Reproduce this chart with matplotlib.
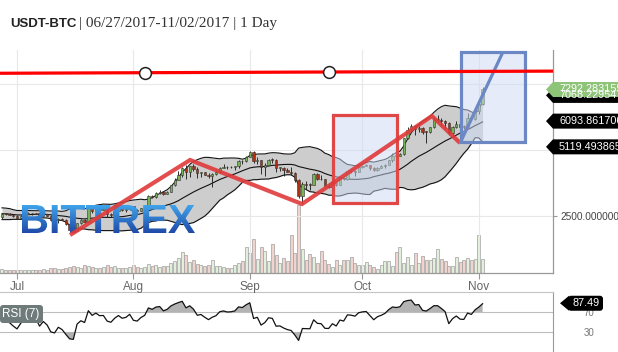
import numpy as np
import pandas as pd
import matplotlib
matplotlib.use("Agg")
import matplotlib.pyplot as plt
import matplotlib.dates as mdates
from matplotlib.patches import Rectangle, Polygon, PathPatch, FancyBboxPatch
from matplotlib.textpath import TextPath
from matplotlib.font_manager import FontProperties
from matplotlib.transforms import Affine2D

# ---------------- data ----------------
start_date = "2017-06-27"
end_date = "2017-11-02"
# closes before the visible window (Jun 8 - Jun 26), used only for the indicators
pre_close = [2690, 2720, 2800, 2750, 2500, 2600, 2430, 2380, 2450, 2580,
             2520, 2600, 2700, 2620, 2650, 2640, 2560, 2530, 2430]

open_ = [2450, 2580, 2570, 2550,
         2490, 2430, 2510, 2580, 2600, 2610, 2600, 2500, 2560, 2510, 2360, 2330, 2400, 2350, 2210, 1970,
         1930, 2230, 2330, 2280, 2830, 2680, 2820, 2740, 2750, 2580, 2540, 2680, 2790, 2720, 2750,
         2860, 2720, 2700, 2800, 2870, 3250, 3220, 3380, 3420, 3340, 3420, 3660, 3860, 4070, 4320, 4160,
         4380, 4290, 4110, 4150, 4070, 4000, 4090, 4150, 4330, 4370, 4350, 4360, 4390, 4580, 4570,
         4740, 4940, 4580, 4630, 4350, 4440, 4640, 4620, 4320, 4330, 4240, 4170, 4130, 3880, 3240,
         3700, 3690, 3680, 4100, 3910, 3890, 3620, 3610, 3790, 3680, 3930, 3890, 4210, 4200, 4170,
         4350, 4400, 4420, 4330, 4230, 4330, 4380, 4450, 4620, 4790, 4780, 4830, 5440, 5750, 5920,
         5790, 5850, 5700, 5680, 5860, 6140, 6150, 6090, 6020, 5640, 5860, 6000, 5890, 5880, 6200, 6160,
         6470, 6750]
high = [2600, 2620, 2600, 2570,
        2520, 2530, 2610, 2650, 2620, 2630, 2610, 2570, 2580, 2530, 2420, 2420, 2420, 2370, 2220, 2050,
        2240, 2380, 2400, 2900, 2840, 2860, 2830, 2780, 2770, 2620, 2700, 2820, 2810, 2770, 2880,
        2890, 2760, 2820, 2890, 3300, 3280, 3420, 3470, 3440, 3450, 3690, 3950, 4200, 4350, 4450, 4400,
        4480, 4360, 4180, 4180, 4110, 4120, 4250, 4370, 4460, 4380, 4400, 4400, 4630, 4640, 4760,
        4950, 4960, 4720, 4640, 4500, 4670, 4680, 4660, 4370, 4340, 4320, 4350, 4150, 3900, 3790,
        3840, 3750, 4120, 4120, 4050, 3900, 3760, 3800, 3800, 3950, 3980, 4220, 4270, 4230, 4360,
        4410, 4480, 4430, 4350, 4360, 4420, 4470, 4630, 4870, 4930, 4890, 5450, 5870, 6000, 5960,
        5900, 5870, 5730, 5880, 6200, 6320, 6200, 6150, 6050, 5900, 6080, 6090, 5950, 6400, 6280,
        6500, 6800, 7400]
low = [2400, 2520, 2530, 2480,
       2400, 2400, 2500, 2570, 2550, 2580, 2480, 2480, 2500, 2320, 2280, 2250, 2330, 2150, 1960, 1850,
       1920, 2200, 2250, 2270, 2620, 2660, 2700, 2710, 2480, 2460, 2530, 2670, 2700, 2650, 2730,
       2680, 2660, 2700, 2770, 2860, 3180, 3200, 3350, 3280, 3320, 3410, 3650, 3850, 3990, 3900, 3980,
       4220, 3950, 3980, 4050, 3950, 3600, 4070, 4110, 4320, 4290, 4330, 4250, 4330, 4480, 4560,
       4730, 4490, 4470, 4100, 4000, 4430, 4510, 4150, 4200, 4000, 4150, 4050, 3800, 3180, 2950,
       3540, 3480, 3670, 3860, 3870, 3580, 3560, 3580, 3650, 3670, 3860, 3880, 4110, 4030, 4160,
       4300, 4380, 4250, 4200, 4190, 4320, 4330, 4440, 4560, 4740, 4760, 4820, 5400, 5700, 5550,
       5680, 5600, 5250, 5660, 5820, 6050, 5900, 5780, 5550, 5480, 5840, 5860, 5780, 5850, 6090,
       6130, 6350, 6720]
close = [2580, 2570, 2550, 2490,
         2430, 2510, 2580, 2600, 2610, 2600, 2500, 2560, 2510, 2360, 2330, 2400, 2350, 2210, 1970, 1930,
         2230, 2330, 2280, 2830, 2680, 2820, 2740, 2750, 2580, 2540, 2680, 2790, 2720, 2750, 2860,
         2720, 2700, 2800, 2870, 3250, 3220, 3380, 3420, 3340, 3420, 3660, 3860, 4070, 4320, 4160, 4380,
         4290, 4110, 4150, 4070, 4000, 4090, 4150, 4330, 4370, 4350, 4360, 4390, 4580, 4570, 4740,
         4940, 4580, 4630, 4350, 4440, 4640, 4620, 4320, 4330, 4240, 4170, 4130, 3880, 3240, 3700,
         3690, 3680, 4100, 3910, 3890, 3620, 3610, 3790, 3680, 3930, 3890, 4210, 4200, 4170, 4350,
         4400, 4420, 4330, 4230, 4330, 4380, 4450, 4620, 4790, 4780, 4830, 5440, 5750, 5920, 5790,
         5850, 5700, 5680, 5860, 6140, 6150, 6090, 6020, 5640, 5860, 6000, 5890, 5880, 6200, 6160,
         6470, 6750, 7292]
volume = [4, 3, 3, 3, 3, 3, 3, 3, 3, 3, 3, 4, 3, 5, 5, 4, 4, 5, 6,
          7, 6, 5, 8, 7, 6, 5, 5, 6, 8, 6, 7, 5, 5, 5, 6,
          8, 6, 5, 6, 9, 7, 8, 6, 7, 7,
          10, 12, 15, 21, 18, 11, 13, 9, 8, 7,
          8, 13, 7, 7, 6, 5, 5, 8, 10, 12, 26,
          20, 34, 14, 26, 22, 12, 29, 18, 10, 15, 12, 38, 20, 68,
          24, 13, 19, 16, 10, 22, 13, 9, 6, 13, 8, 13, 13, 16, 10, 8, 8, 11, 8, 6,
          4, 8, 12, 12, 7, 21, 26, 10, 16, 8, 20, 10, 17, 13, 13, 15, 24, 14, 12, 7,
          7, 16, 11, 13, 15, 13, 14, 38, 14]

month_ticks = ["2017-07-01", "2017-08-01", "2017-09-01", "2017-10-01", "2017-11-01"]
month_labels = ["Jul", "Aug", "Sep", "Oct", "Nov"]
x_range = ["2017-06-26 11:15", "2017-11-20 18:00"]
price_range = [341, 8788]
price_ticks = [2500, 5000, 7500]
price_tick_labels = ["2500.000000", "", ""]

# drawings
hline_dates = ["2017-08-04 02:00", "2017-09-22 02:00"]
hline_prices = [7928, 7955]
zigzag_dates = ["2017-07-15 03:00", "2017-08-16 02:00", "2017-09-14 22:00",
                "2017-10-19 12:00", "2017-10-27 00:00"]
zigzag_prices = [1780, 4621, 2955, 6288, 5265]
trend_dates = ["2017-10-27 00:00", "2017-11-07 10:00"]
trend_prices = [5265, 8712]
red_box_dates = ["2017-09-23 04:00", "2017-10-10 05:00"]
red_box_prices = [2992, 6326]
blue_box_dates = ["2017-10-27 05:00", "2017-11-13 07:00"]
blue_box_prices = [5303, 8712]

tag_values = ["7068.229547", "7292.283155", "6093.861706", "5119.493865"]
tag_colors = ["#000000", "#8dc478", "#000000", "#000000"]
rsi_tag = "87.49"

# ---------------- figure ----------------
W, H = 618, 352
fig = plt.figure(figsize=(W / 100, H / 100), dpi=100)
pix = Affine2D().scale(1 / 100) + fig.dpi_scale_trans   # bottom-left pixel coords


def rect(l, t, r, b):
    return [l / W, 1 - b / H, (r - l) / W, (b - t) / H]


dates = pd.date_range(start_date, end_date, freq="D")
x = mdates.date2num(dates.to_pydatetime())
o = np.array(open_, float)
h = np.array(high, float)
l = np.array(low, float)
c = np.array(close, float)
v = np.array(volume, float)
up = c >= o

# indicators
allc = pd.Series(np.r_[pre_close, close].astype(float))
mid = allc.rolling(20).mean().values[-len(c):]
sd = allc.rolling(20).std(ddof=0).values[-len(c):]
upper = mid + 2 * sd
lower = mid - 2 * sd
d = allc.diff()
ag = d.clip(lower=0).ewm(alpha=1 / 7, adjust=False).mean()
al = (-d.clip(upper=0)).ewm(alpha=1 / 7, adjust=False).mean()
rsi = (100 - 100 / (1 + ag / al)).values[-len(c):]


def dn(s):
    return mdates.date2num(pd.Timestamp(s).to_pydatetime())


xlim = (dn(x_range[0]), dn(x_range[1]))

# volume axes (below)
axv = fig.add_axes(rect(0, 50, 553, 273))
axv.set_zorder(0)
vcols = np.where(up, "#e3efdc", "#f2d4cf")
axv.bar(x, v, width=0.8, color=vcols, edgecolor="#a0a0a0", linewidth=0.5)
axv.set_ylim(0, 223)
axv.set_xlim(*xlim)
axv.axis("off")

# price axes
ax = fig.add_axes(rect(0, 50, 553, 273))
ax.set_zorder(1)
ax.patch.set_visible(False)

for mt in month_ticks:
    ax.axvline(dn(mt), color="#e8e8e8", lw=0.8, zorder=0)
for pt in price_ticks:
    ax.axhline(pt, color="#e8e8e8", lw=0.8, zorder=0)

ax.fill_between(x, lower, upper, color="#cdcdcd", lw=0, zorder=1.5)
for band in (upper, lower, mid):
    ax.plot(x, band, color="#111111", lw=0.8, zorder=1.6)

ax.vlines(x, l, h, color="#2b2b2b", lw=0.7, zorder=2)
body_bottom = np.minimum(o, c)
body_h = np.maximum(np.abs(c - o), 25)
ax.bar(x, body_h, bottom=body_bottom, width=0.62,
       color=np.where(up, "#76b457", "#b3300e"), edgecolor="#333333",
       linewidth=0.4, zorder=2.5)

# watermark
tp = TextPath((0, 0), "BITTREX", size=40,
              prop=FontProperties(family="Liberation Sans", weight="bold"))
ext = tp.get_extents()
wm_l, wm_r, wm_t, wm_b = 22, 195, 205, 233
wm_tr = (Affine2D().translate(-ext.x0, -ext.y0)
         .scale((wm_r - wm_l) / ext.width, (wm_b - wm_t) / ext.height)
         .translate(wm_l, H - wm_b)) + pix
wm_patch = PathPatch(tp, transform=wm_tr, facecolor="none", edgecolor="none")
top_c = np.array([0.25, 0.64, 0.92])
bot_c = np.array([0.12, 0.29, 0.66])
tt = np.linspace(0, 1, 64)[:, None, None]
grad = top_c * (1 - tt) + bot_c * tt
im = ax.imshow(grad, extent=(wm_l, wm_r, H - wm_b, H - wm_t), transform=pix,
               aspect="auto", origin="upper", zorder=3, interpolation="bilinear")
im.set_clip_path(wm_patch)

# drawings
box_face = (0.80, 0.85, 0.96, 0.5)
rx0, rx1 = dn(red_box_dates[0]), dn(red_box_dates[1])
ax.add_patch(Rectangle((rx0, red_box_prices[0]), rx1 - rx0,
                       red_box_prices[1] - red_box_prices[0],
                       facecolor=box_face, edgecolor="#e04848", lw=2.3, zorder=4))
bx0, bx1 = dn(blue_box_dates[0]), dn(blue_box_dates[1])
ax.add_patch(Rectangle((bx0, blue_box_prices[0]), bx1 - bx0,
                       blue_box_prices[1] - blue_box_prices[0],
                       facecolor=box_face, edgecolor="#6c88c4", lw=2.3, zorder=4))
ax.plot([dn(s) for s in zigzag_dates], zigzag_prices, color="#e03a3a", lw=3.0,
        alpha=0.9, zorder=5, solid_joinstyle="miter", solid_capstyle="butt")
ax.plot([dn(s) for s in trend_dates], trend_prices, color="#6c88c4", lw=2.3,
        zorder=5.5, solid_capstyle="butt")
hx = [dn(s) for s in hline_dates]
ax.axline((hx[0], hline_prices[0]), (hx[1], hline_prices[1]), color="#ff0000",
          lw=2.3, zorder=6)
ax.plot(hx, hline_prices, "o", ms=8.5, mfc="white", mec="#222222", mew=1.1, zorder=7)

ax.set_xlim(*xlim)
ax.set_ylim(*price_range)
for s in ("left", "top"):
    ax.spines[s].set_visible(False)
for s in ("right", "bottom"):
    ax.spines[s].set_color("#999999")
    ax.spines[s].set_linewidth(0.9)
ax.set_xticks([dn(m) for m in month_ticks])
ax.set_xticklabels(month_labels)
ax.yaxis.tick_right()
ax.set_yticks(price_ticks)
ax.set_yticklabels(price_tick_labels)
ax.tick_params(axis="x", length=4, color="#999999", labelcolor="#666666",
               labelsize=8.5, pad=1.5)
ax.tick_params(axis="y", length=3, color="#999999", labelcolor="#444444",
               labelsize=7.3, pad=2)
for t in ax.get_xticklabels() + ax.get_yticklabels():
    t.set_family("Liberation Sans")

# price tags
for txt, col in zip(tag_values, tag_colors):
    yp = ax.transData.transform((xlim[0], float(txt)))[1]
    tag = Polygon([(546, yp), (553, yp + 7.5), (640, yp + 7.5), (640, yp - 7.5),
                   (553, yp - 7.5)], closed=True, transform=pix, facecolor=col,
                  edgecolor="none", zorder=10)
    fig.add_artist(tag)
    fig.text(559, yp, txt, transform=pix, color="white", fontsize=7.8,
             family="Liberation Sans", va="center", ha="left", zorder=11)

# RSI panel
ax2 = fig.add_axes(rect(0, 292, 553, 352))
ax2.set_xlim(*xlim)
ax2.set_ylim(-10, 110)
for lev in (70, 30):
    ax2.axhline(lev, color="#bdbdbd", lw=0.8, zorder=0)
ax2.fill_between(x, rsi, 70, where=rsi > 70, interpolate=True, color="#b3b3b3",
                 lw=0, zorder=1)
ax2.fill_between(x, rsi, 30, where=rsi < 30, interpolate=True, color="#b3b3b3",
                 lw=0, zorder=1)
ax2.plot(x, rsi, color="#111111", lw=0.9, zorder=2)
for s in ("left", "bottom"):
    ax2.spines[s].set_visible(False)
ax2.spines["top"].set_color("#c4c4c4")
ax2.spines["right"].set_color("#999999")
ax2.set_xticks([])
ax2.yaxis.tick_right()
ax2.set_yticks([30, 70])
ax2.set_yticklabels(["30", "70"])
ax2.tick_params(axis="y", length=0, labelcolor="#777777", labelsize=7, pad=22)
for t in ax2.get_yticklabels():
    t.set_family("Liberation Sans")

yr = ax2.transData.transform((xlim[0], float(rsi_tag)))[1]
fig.add_artist(FancyBboxPatch((568, yr - 7.5), 35, 15, boxstyle="round,pad=0,rounding_size=3",
                              transform=pix, facecolor="black", edgecolor="none", zorder=10))
fig.add_artist(Polygon([(560, yr), (569, yr + 7.5), (569, yr - 7.5)], closed=True,
                       transform=pix, facecolor="black", edgecolor="none", zorder=10))
fig.text(586, yr, rsi_tag, transform=pix, color="white", fontsize=7.8,
         family="Liberation Sans", va="center", ha="center", zorder=11)

fig.add_artist(FancyBboxPatch((0, H - 323), 43, 18, boxstyle="round,pad=0,rounding_size=3",
                              transform=pix, facecolor="#6f7b7b", edgecolor="none", zorder=10))
fig.text(21, H - 314, "RSI (7)", transform=pix, color="white", fontsize=8.5,
         family="Liberation Sans", va="center", ha="center", zorder=11)

# title
t1 = fig.text(10, H - 27, "USDT-BTC", transform=pix, fontsize=9.5, fontweight="bold",
              family="Liberation Sans", color="#222222", va="baseline")
r = fig.canvas.get_renderer()
bb = t1.get_window_extent(r)
fig.text(bb.x1 + 3, H - 27, "| 06/27/2017-11/02/2017 | 1 Day", transform=pix,
         fontsize=11, family="Liberation Serif", color="#333333", va="baseline")

fig.savefig("out.png", dpi=100)
